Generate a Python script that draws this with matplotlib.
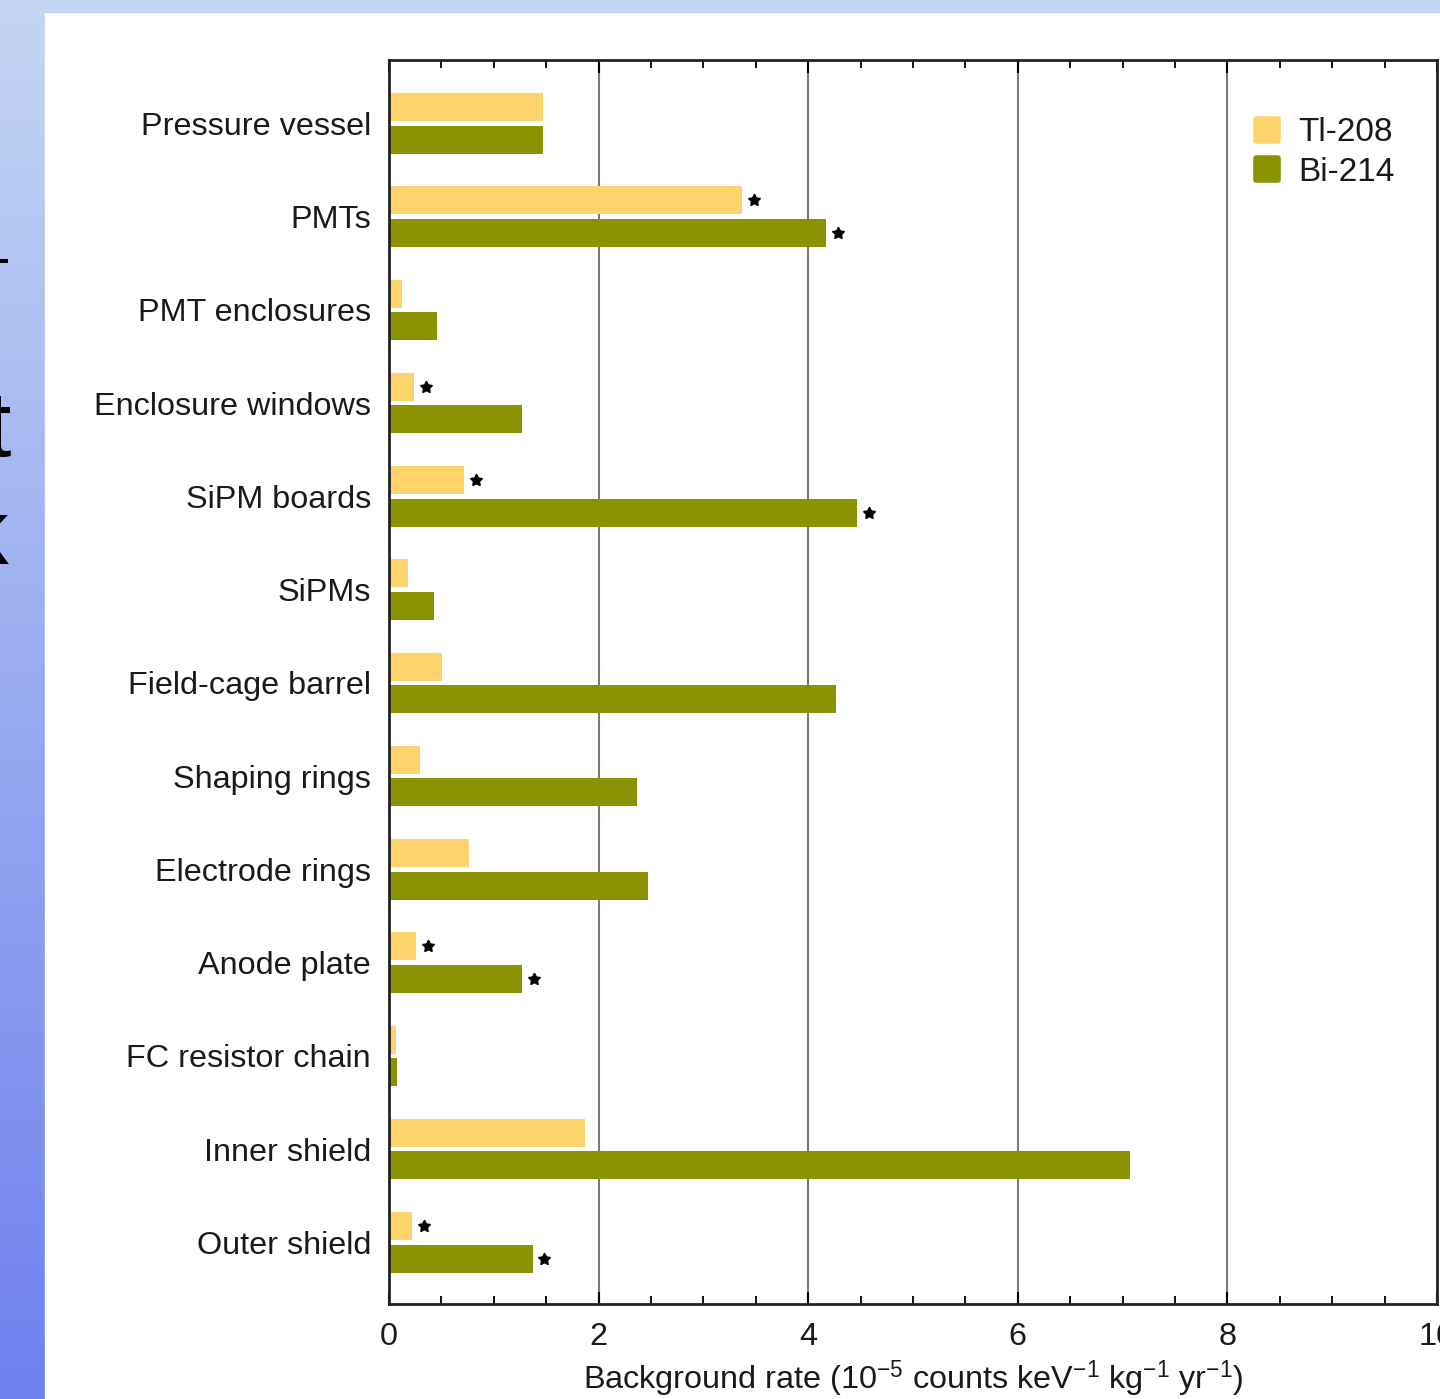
import numpy as np
import matplotlib
matplotlib.use('Agg')
import matplotlib.pyplot as plt
from matplotlib.lines import Line2D
from matplotlib.markers import MarkerStyle
from matplotlib.patches import Rectangle

plt.rcParams['font.family'] = ['Liberation Sans', 'DejaVu Sans']
plt.rcParams['mathtext.fontset'] = 'custom'
plt.rcParams['mathtext.rm'] = 'Liberation Sans'
plt.rcParams['mathtext.it'] = 'Liberation Sans'

# data
components = ['Pressure vessel', 'PMTs', 'PMT enclosures', 'Enclosure windows',
              'SiPM boards', 'SiPMs', 'Field-cage barrel', 'Shaping rings',
              'Electrode rings', 'Anode plate', 'FC resistor chain',
              'Inner shield', 'Outer shield']
tl208 = [1.47, 3.37, 0.12, 0.24, 0.72, 0.18, 0.51, 0.30, 0.76, 0.26, 0.07, 1.87, 0.22]
bi214 = [1.47, 4.17, 0.46, 1.27, 4.47, 0.43, 4.27, 2.37, 2.47, 1.27, 0.08, 7.07, 1.37]
tl208_star = [False, True, False, True, True, False, False, False, False, True, False, False, True]
bi214_star = [False, True, False, False, True, False, False, False, False, True, False, False, True]

c_tl = '#FDD46C'
c_bi = '#8C9300'
txt = '#1a1a1a'
fs = 23.3

W, H = 1440, 1399
fig = plt.figure(figsize=(W / 100, H / 100), dpi=100)

# slide background: blue band on top and gradient on the left
bg = fig.add_axes([0, 0, 1, 1], zorder=-10)
grad = np.linspace(0, 1, 256).reshape(-1, 1)
top = np.array([196, 213, 243]) / 255
bot = np.array([110, 128, 238]) / 255
img = top[None, None, :] * (1 - grad[:, :, None]) + bot[None, None, :] * grad[:, :, None]
bg.imshow(img, aspect='auto', extent=[0, 1, 0, 1], origin='upper')
bg.add_patch(Rectangle((45 / W, 0), 1 - 45 / W, 1 - 12 / H, color='white'))
bg.add_patch(Rectangle((45 / W, 1 - 12 / H), 1 - 45 / W, 12 / H, color='#C4D5F3'))
bg.set_xlim(0, 1)
bg.set_ylim(0, 1)
bg.axis('off')

# cut-off slide text on the left edge
fig.text(10 / W, 1 - 262 / H, '-', fontsize=40, ha='right', va='center', color='black')
fig.text(11 / W, 1 - 432 / H, 't', fontsize=66, ha='right', va='center', color='black')
fig.text(9 / W, 1 - 540 / H, 'k', fontsize=66, ha='right', va='center', color='black')

ax = fig.add_axes([389 / W, 95 / H, 1048 / W, 1244 / H])
y = np.arange(len(components))
off = 0.174
hgt = 0.30
ax.barh(y - off, tl208, height=hgt, color=c_tl, zorder=2)
ax.barh(y + off, bi214, height=hgt, color=c_bi, zorder=2)

for i in range(len(components)):
    if tl208_star[i]:
        ax.plot(tl208[i] + 0.11, y[i] - off, marker=(5, 1, 0), color='black',
                markersize=9, zorder=3)
    if bi214_star[i]:
        ax.plot(bi214[i] + 0.11, y[i] + off, marker=(5, 1, 0), color='black',
                markersize=9, zorder=3)

ax.set_xlim(0, 9.97)
ax.set_ylim(12.66, -0.68)
ax.set_yticks(y)
ax.set_yticklabels(components, fontsize=fs, color=txt)
ax.set_xticks([0, 2, 4, 6, 8, 10])
ax.set_xticklabels(['0', '2', '4', '6', '8', '10'], fontsize=fs, color=txt)
ax.set_xticks(np.arange(0.5, 10, 0.5), minor=True)
ax.tick_params(axis='y', length=0, pad=13)
ax.tick_params(axis='x', which='major', direction='in', length=9, width=1.5,
               top=True, pad=13)
ax.tick_params(axis='x', which='minor', direction='in', length=6, width=1.3,
               top=True)
for sp in ax.spines.values():
    sp.set_linewidth(2)
    sp.set_color('#222222')

for gx in [2, 4, 6, 8]:
    ax.axvline(gx, color='#7a7a7a', linewidth=1.5, zorder=1)

ax.set_xlabel('Background rate (10$^{-5}$ counts keV$^{-1}$ kg$^{-1}$ yr$^{-1}$)',
              fontsize=fs, color=txt, labelpad=5)

handles = [Line2D([], [], linestyle='none', marker=MarkerStyle('s', joinstyle='round'),
                  markersize=16, markerfacecolor=c, markeredgecolor=c, markeredgewidth=4)
           for c in [c_tl, c_bi]]
ax.legend(handles, ['Tl-208', 'Bi-214'], loc='upper left',
          bbox_to_anchor=(1237 / W, 1 - 104 / H), bbox_transform=fig.transFigure,
          frameon=False, fontsize=24, handlelength=1.0, handletextpad=0.45,
          labelspacing=0.25, borderaxespad=0, labelcolor=txt)

plt.savefig('out.png', dpi=100)
